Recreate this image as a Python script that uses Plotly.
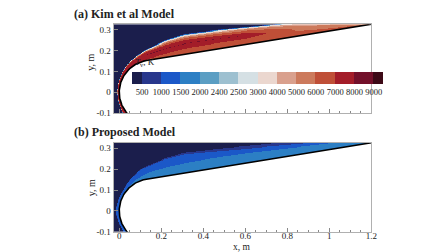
import numpy as np
import plotly.graph_objects as go

# ---------------- data ----------------
level_bounds = [500, 1000, 1500, 2000, 2400, 2500, 3000, 4000, 5000, 6000, 7000, 8000, 9000]
level_labels = [str(v) for v in level_bounds]
level_colors = ['#1b1e4c', '#28378c', '#1b58c8', '#2c7fc4', '#5b9ec3', '#9dc0d0', '#d5e0e4',
                '#ebd7cf', '#d9a08d', '#cc7a5c', '#bf4f37', '#a31d29', '#72102a', '#3d0a17']

x_tickvals = [0, 0.2, 0.4, 0.6, 0.8, 1.0, 1.2]
x_ticktext = ['0', '0.2', '0.4', '0.6', '0.8', '1', '1.2']
y_tickvals = [-0.1, 0, 0.1, 0.2, 0.3]
y_ticktext = ['-0.1', '0', '0.1', '0.2', '0.3']

# sphere-cone body
nose_radius = 0.154
cone_half_angle_deg = 9.25
body_end_x = 1.2

# shock position (x at given |y|)
shock_a_y = [0, 0.05, 0.10, 0.15, 0.20, 0.25, 0.28, 0.30, 0.326, 0.37]
shock_a_x = [-0.012, -0.004, 0.016, 0.052, 0.12, 0.22, 0.31, 0.47, 0.74, 1.25]
shock_b_y = [0, 0.05, 0.10, 0.15, 0.20, 0.25, 0.28, 0.30, 0.326, 0.37]
shock_b_x = [-0.016, -0.008, 0.019, 0.050, 0.10, 0.21, 0.31, 0.48, 0.74, 1.25]

# vibrational temperature across the shock layer (s=0 body, s=1 shock) at x stations
s_levels = [0, 0.15, 0.30, 0.42, 0.52, 0.62, 0.75, 0.85, 0.93, 1.0]
x_stations = [0.0, 0.15, 0.3, 0.6, 0.9, 1.2]
temp_kim = [
    [7400, 7600, 7700, 7750, 7750, 7700, 7400, 6500, 3500, 400],
    [6800, 7000, 7400, 7700, 8050, 7700, 7000, 5500, 3000, 400],
    [6300, 6600, 7100, 7600, 8050, 7500, 6600, 5000, 2800, 400],
    [6100, 6400, 6900, 7400, 8020, 7300, 6400, 5200, 3200, 400],
    [6400, 6300, 6000, 5600, 5300, 5000, 4600, 4200, 3000, 400],
    [6000, 5800, 5400, 5000, 4700, 4500, 4200, 3800, 2800, 400],
]
temp_proposed = [
    [1700, 1600, 1400, 1350, 1300, 1300, 1250, 1200, 1100, 400],
    [1800, 1750, 1650, 1550, 1450, 1350, 1300, 1200, 1050, 400],
    [1800, 1750, 1650, 1550, 1450, 1350, 1250, 1150, 950, 400],
    [1850, 1800, 1700, 1650, 1550, 1400, 1200, 900, 700, 400],
    [1800, 1750, 1700, 1650, 1550, 1300, 1000, 800, 600, 400],
    [1750, 1700, 1650, 1600, 1450, 1200, 900, 700, 500, 400],
]
freestream_T = 300

x_range = [-0.027, 1.2]
y_range = [-0.1, 0.326]

# ---------------- geometry / field ----------------
R = nose_radius
th = np.radians(cone_half_angle_deg)
xt, yt = R * (1 - np.sin(th)), R * np.cos(th)
slope = np.tan(th)
x_end = body_end_x
y_end = yt + (x_end - xt) * slope

step = 0.0025
xg = np.arange(x_range[0], x_range[1] + step / 2, step)
yg = np.arange(y_range[0], y_range[1] + step / 2, step)
X, Y = np.meshgrid(xg, yg)


def seg_dist(px, py, ax, ay, bx, by):
    dx, dy = bx - ax, by - ay
    t = np.clip(((px - ax) * dx + (py - ay) * dy) / (dx * dx + dy * dy), 0, 1)
    return np.hypot(px - (ax + t * dx), py - (ay + t * dy))


def build_field(table, sy, sx):
    sy = np.array(sy, float)
    sx = np.array(sx, float)
    inside = (np.hypot(X - R, Y) < R) | ((X >= xt) & (np.abs(Y) <= yt + (X - xt) * slope))
    d_body = np.minimum(np.hypot(X - R, Y) - R, seg_dist(X, Y, xt, yt, x_end, y_end))
    d_body = np.maximum(d_body, 0)
    py = np.concatenate([-sy[::-1], sy[1:]])
    px = np.concatenate([sx[::-1], sx[1:]])
    d_shock = np.full(X.shape, np.inf)
    for i in range(len(px) - 1):
        d_shock = np.minimum(d_shock, seg_dist(X, Y, px[i], py[i], px[i + 1], py[i + 1]))
    in_layer = X >= np.interp(np.abs(Y), sy, sx)
    s = np.clip(d_body / (d_body + d_shock + 1e-9), 0, 1)
    rows = np.array([np.interp(s, s_levels, r) for r in table])
    xc = np.clip(X, x_stations[0], x_stations[-1])
    eye = np.eye(len(x_stations))
    w = np.array([np.interp(xc, x_stations, e) for e in eye])
    T = (rows * w).sum(axis=0)
    T = np.where(in_layer, T, freestream_T)
    zb = [0] + level_bounds + [12000]
    zi = [0.5] + list(range(1, len(level_bounds) + 1)) + [len(level_bounds) + 0.5]
    z = np.interp(T, zb, zi)
    z = np.round(z, 2)
    z[inside] = np.nan
    return z


z_a = build_field(temp_kim, shock_a_y, shock_a_x)
z_b = build_field(temp_proposed, shock_b_y, shock_b_x)

# discrete colorscale in level-index space
nlev = len(level_bounds)
zmin, zmax = 0.5, nlev + 0.5
edges = [0.0] + [(k - zmin) / (zmax - zmin) for k in range(1, nlev + 1)] + [1.0]
colorscale = []
for i, c in enumerate(level_colors):
    colorscale.append([edges[i], c])
    colorscale.append([edges[i + 1], c])

phi = np.linspace(np.arcsin(-0.12 / R), np.pi / 2 - th, 80)
bx = list(R - R * np.cos(phi)) + [x_end]
by = list(R * np.sin(phi)) + [y_end]

FONT = 'Liberation Serif'
fig = go.Figure()
fig.add_trace(go.Heatmap(
    x=xg, y=yg, z=z_a, zmin=zmin, zmax=zmax, colorscale=colorscale, zsmooth=False,
    xaxis='x', yaxis='y', hoverinfo='skip',
    colorbar=dict(orientation='h', x=253.3 / 448, xanchor='center', y=1 - 65 / 252, yanchor='top',
                  len=251, lenmode='pixels', thickness=12, thicknessmode='pixels',
                  outlinewidth=0, xpad=0, ypad=0, tickvals=list(range(1, nlev + 1)),
                  ticktext=level_labels, ticks='', tickangle=0,
                  tickfont=dict(family=FONT, size=8.5, color='#222'),
                  bgcolor='rgba(0,0,0,0)')))
fig.add_trace(go.Heatmap(
    x=xg, y=yg, z=z_b, zmin=zmin, zmax=zmax, colorscale=colorscale, zsmooth=False,
    xaxis='x2', yaxis='y2', showscale=False, hoverinfo='skip'))
for xa, ya in (('x', 'y'), ('x2', 'y2')):
    fig.add_trace(go.Scatter(x=bx, y=by, mode='lines', line=dict(color='black', width=1.6),
                             xaxis=xa, yaxis=ya, showlegend=False, hoverinfo='skip'))

axcommon = dict(showgrid=False, zeroline=False, showline=True, mirror=True, linecolor='#b0b0b0',
                linewidth=1, ticks='inside', ticklen=4, tickcolor='#888',
                tickfont=dict(family=FONT, size=9, color='#222'))
xdom = [107.0 / 448, 368.3 / 448]
fig.update_layout(
    width=448, height=252, autosize=False, margin=dict(l=0, r=0, t=0, b=0),
    paper_bgcolor='white', plot_bgcolor='white', showlegend=False,
    xaxis=dict(domain=xdom, range=x_range, anchor='y', tickvals=x_tickvals, showticklabels=False,
               minor=dict(dtick=0.05, ticklen=2, ticks='inside', tickcolor='#888'), **axcommon),
    yaxis=dict(domain=[1 - 107.3 / 252, 1 - 16.6 / 252], range=y_range, anchor='x',
               tickvals=y_tickvals, ticktext=y_ticktext, **axcommon),
    xaxis2=dict(domain=xdom, range=x_range, anchor='y2', tickvals=x_tickvals, ticktext=x_ticktext,
                ticklabelstandoff=-5,
                minor=dict(dtick=0.05, ticklen=2, ticks='inside', tickcolor='#888'), **axcommon),
    yaxis2=dict(domain=[1 - 228.3 / 252, 1 - 137.6 / 252], range=y_range, anchor='x2',
                tickvals=y_tickvals, ticktext=y_ticktext, **axcommon),
)

ann = [
    dict(text='<b>(a) Kim et al Model</b>', x=118 / 448, y=1 - 6 / 252, font=dict(size=12)),
    dict(text='<b>(b) Proposed Model</b>', x=119 / 448, y=1 - 127 / 252, font=dict(size=12)),
    dict(text='y, m', x=84 / 448, y=1 - 55 / 252, textangle=-90, font=dict(size=10)),
    dict(text='y, m', x=84 / 448, y=1 - 183 / 252, textangle=-90, font=dict(size=10)),
    dict(text='x, m', x=237.5 / 448, y=1 - 244 / 252, font=dict(size=9.5)),
    dict(text='<i>T</i><sub>v</sub>, K', x=127 / 448, y=1 - 63.5 / 252, xanchor='left',
         yanchor='bottom', font=dict(size=9)),
]
for a in ann:
    a.setdefault('xanchor', 'center')
    a.setdefault('yanchor', 'middle')
    a['font'] = dict(family=FONT, color='#222', **a['font'])
    fig.add_annotation(xref='paper', yref='paper', showarrow=False, **a)

fig.write_html('out.html')
